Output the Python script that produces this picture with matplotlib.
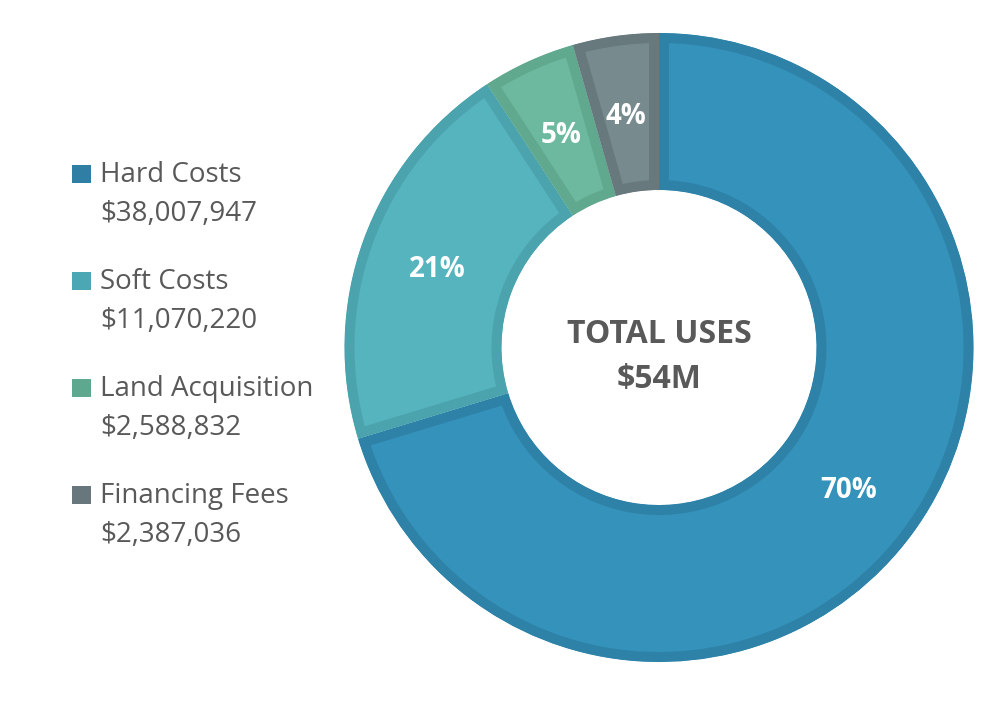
import matplotlib
matplotlib.use("Agg")
import matplotlib.pyplot as plt
from matplotlib.patches import Rectangle
import math

categories = ["Hard Costs", "Soft Costs", "Land Acquisition", "Financing Fees"]
values = [38007947, 11070220, 2588832, 2387036]
pct_labels = ["70%", "21%", "5%", "4%"]
fill_colors = ["#3492BB", "#56B4BF", "#6DB9A0", "#778A8E"]
edge_colors = ["#2E82A8", "#4BA3AE", "#60A98F", "#68797D"]
legend_colors = ["#2E7FA3", "#4AA7B3", "#5FA890", "#68777B"]
center_title = "TOTAL USES"
center_value = "$54M"

W, H = 983, 704
fig = plt.figure(figsize=(W / 100, H / 100), dpi=100)
ax = fig.add_axes([0, 0, 1, 1])

FONT = "Open Sans"
CAP = 0.714  # cap height / em
PX = 100 / 72  # px per pt

cx, cy = 659, H - 347.5
R = 314.5
ring = 157

total = sum(values)
wedges, _ = ax.pie(values, center=(cx, cy), radius=R, startangle=90,
                   counterclock=False, colors=fill_colors,
                   wedgeprops=dict(width=ring, linewidth=14.4, joinstyle="miter"))
for w, ec in zip(wedges, edge_colors):
    w.set_edgecolor(ec)
    w.set_clip_on(True)
    w.set_clip_path(w)

ax.set_xlim(0, W)
ax.set_ylim(0, H)
ax.set_aspect("equal")
ax.axis("off")

# percent labels
ang = 90.0
rmid = R - ring / 2
fs = 20
for v, lab in zip(values, pct_labels):
    span = 360.0 * v / total
    mid = math.radians(ang - span / 2)
    x = cx + rmid * math.cos(mid)
    y = cy + rmid * math.sin(mid) - CAP * fs * PX / 2
    ax.text(x, y, lab, ha="center", va="baseline",
            color="white", fontsize=fs, fontweight="bold", family=FONT)
    ang -= span

ax.text(cx, H - 343, center_title, ha="center", va="baseline", color="#595959",
        fontsize=23, fontweight="bold", family=FONT)
ax.text(cx, H - 388, center_value, ha="center", va="baseline", color="#595959",
        fontsize=23, fontweight="bold", family=FONT)

# legend
step = 107
for i, (cat, val, col) in enumerate(zip(categories, values, legend_colors)):
    base = 182 + i * step
    ax.add_patch(Rectangle((72, H - base - 1), 19, 18, color=col, lw=0))
    ax.text(100, H - base, cat, ha="left", va="baseline", color="#595959",
            fontsize=20, family=FONT)
    ax.text(100, H - base - 39, f"${val:,}", ha="left", va="baseline", color="#595959",
            fontsize=20, family=FONT)

fig.savefig("out.png", dpi=100)
